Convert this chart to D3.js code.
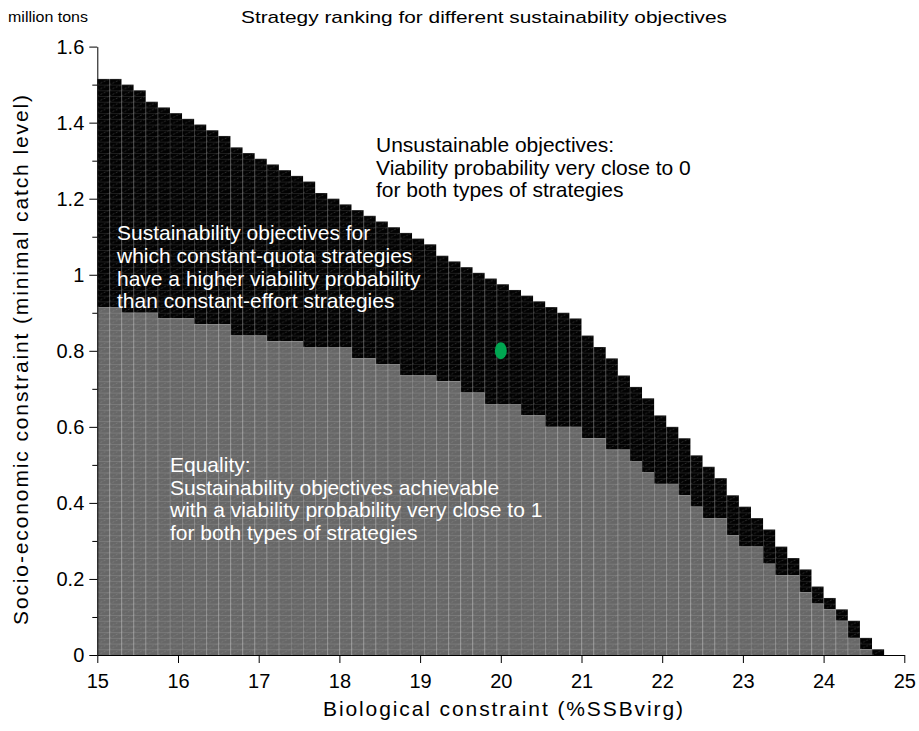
<!DOCTYPE html>
<html>
<head>
<meta charset="utf-8">
<script src="https://cdn.jsdelivr.net/npm/d3@7"></script>
<style>
  html, body { margin: 0; padding: 0; background: #fff; }
  svg { display: block; font-family: "Liberation Sans", Arial, Helvetica, sans-serif; }
</style>
</head>
<body>
<svg id="chart" width="919" height="731"></svg>
<script>
// Biological constraint (%SSBvirg): left edge of each grid column
const bioLevels = [
  15.00, 15.15, 15.30, 15.45, 15.60, 15.75, 15.90, 16.05, 16.20, 16.35,
  16.50, 16.65, 16.80, 16.95, 17.10, 17.25, 17.40, 17.55, 17.70, 17.85,
  18.00, 18.15, 18.30, 18.45, 18.60, 18.75, 18.90, 19.05, 19.20, 19.35,
  19.50, 19.65, 19.80, 19.95, 20.10, 20.25, 20.40, 20.55, 20.70, 20.85,
  21.00, 21.15, 21.30, 21.45, 21.60, 21.75, 21.90, 22.05, 22.20, 22.35,
  22.50, 22.65, 22.80, 22.95, 23.10, 23.25, 23.40, 23.55, 23.70, 23.85,
  24.00, 24.15, 24.30, 24.45, 24.60
];
const bioStep = 0.15;     // column width (%SSBvirg)
const catchStep = 0.015;  // row height (million tons)

// Highest catch level where constant-quota strategies are still viable (top of black zone)
const quotaLimit = [
  1.515, 1.515, 1.500, 1.485, 1.455, 1.440, 1.425, 1.410, 1.395, 1.380,
  1.365, 1.335, 1.320, 1.305, 1.290, 1.275, 1.260, 1.245, 1.215, 1.200,
  1.185, 1.170, 1.155, 1.140, 1.125, 1.110, 1.095, 1.080, 1.050, 1.035,
  1.020, 1.005, 0.990, 0.975, 0.960, 0.945, 0.930, 0.915, 0.900, 0.885,
  0.840, 0.810, 0.780, 0.735, 0.705, 0.675, 0.630, 0.600, 0.570, 0.525,
  0.495, 0.465, 0.420, 0.390, 0.360, 0.330, 0.285, 0.255, 0.225, 0.180,
  0.150, 0.120, 0.090, 0.045, 0.015
];

// Highest catch level reachable by both strategy types (top of grey zone)
const equalityLimit = [
  0.915, 0.915, 0.900, 0.900, 0.900, 0.885, 0.885, 0.885, 0.870, 0.870,
  0.870, 0.840, 0.840, 0.840, 0.825, 0.825, 0.825, 0.810, 0.810, 0.810,
  0.810, 0.780, 0.780, 0.765, 0.765, 0.735, 0.735, 0.735, 0.720, 0.720,
  0.690, 0.690, 0.660, 0.660, 0.660, 0.630, 0.630, 0.600, 0.600, 0.600,
  0.570, 0.570, 0.540, 0.540, 0.510, 0.480, 0.450, 0.450, 0.420, 0.390,
  0.360, 0.360, 0.315, 0.285, 0.285, 0.240, 0.210, 0.210, 0.165, 0.135,
  0.120, 0.090, 0.045, 0.015, 0.000
];

// Reference objective marked on the chart
const refPoint = { bio: 20, catchLevel: 0.8 };

const xTicks = [15, 16, 17, 18, 19, 20, 21, 22, 23, 24, 25];
const yTicks = [0, 0.2, 0.4, 0.6, 0.8, 1, 1.2, 1.4, 1.6];
const yTickLabels = ["0", "0.2", "0.4", "0.6", "0.8", "1", "1.2", "1.4", "1.6"];
const yMinorTicks = [0.1, 0.3, 0.5, 0.7, 0.9, 1.1, 1.3, 1.5];

const titleText = "Strategy ranking for different sustainability objectives";
const unitText = "million tons";
const xLabel = "Biological constraint (%SSBvirg)";
const yLabel = "Socio-economic constraint (minimal catch level)";

const quotaText = [
  "Sustainability objectives for",
  "which constant-quota strategies",
  "have a higher viability probability",
  "than constant-effort strategies"
];
const equalityText = [
  "Equality:",
  "Sustainability objectives achievable",
  "with a viability probability very close to 1",
  "for both types of strategies"
];
const unsustainableText = [
  "Unsustainable objectives:",
  "Viability probability very close to 0",
  "for both types of strategies"
];

const svg = d3.select("#chart");

const x = d3.scaleLinear().domain([15, 25]).range([97.3, 904.3]);
const y = d3.scaleLinear().domain([0, 1.6]).range([655, 46.6]);

// Mesh textures: one tile per grid cell, with its border and the triangulating diagonal
const cellW = x(15 + bioStep) - x(15);
const cellH = y(0) - y(catchStep);
const defs = svg.append("defs");
function meshPattern(id, fill, edge, diag) {
  const p = defs.append("pattern")
    .attr("id", id)
    .attr("patternUnits", "userSpaceOnUse")
    .attr("x", x(15))
    .attr("y", y(0))
    .attr("width", cellW)
    .attr("height", cellH);
  p.append("rect").attr("width", cellW).attr("height", cellH).attr("fill", fill);
  p.append("line").attr("x1", 0).attr("y1", cellH).attr("x2", cellW).attr("y2", 0)
    .attr("stroke", diag).attr("stroke-width", 0.6).attr("stroke-dasharray", "2,1.5");
  p.append("path").attr("d", `M0,0H${cellW}M0,0V${cellH}`)
    .attr("stroke", edge).attr("stroke-width", 0.9).attr("fill", "none");
}
meshPattern("meshQuota", "#020202", "#3c3c3c", "#4a4a4a");
meshPattern("meshEqual", "#676767", "#8e8e8e", "#858585");

const cols = bioLevels.map((b, i) => ({ bio: b, quota: quotaLimit[i], equal: equalityLimit[i] }));

// Black zone: constant-quota strategies better
svg.append("g").selectAll("rect")
  .data(cols)
  .join("rect")
  .attr("x", d => x(d.bio))
  .attr("width", d => x(d.bio + bioStep) - x(d.bio))
  .attr("y", d => y(d.quota))
  .attr("height", d => y(d.equal) - y(d.quota))
  .attr("fill", "url(#meshQuota)");

// Grey zone: both strategy types equally viable
svg.append("g").selectAll("rect")
  .data(cols.filter(d => d.equal > 0))
  .join("rect")
  .attr("x", d => x(d.bio))
  .attr("width", d => x(d.bio + bioStep) - x(d.bio))
  .attr("y", d => y(d.equal))
  .attr("height", d => y(0) - y(d.equal))
  .attr("fill", "url(#meshEqual)");

// Reference objective
svg.append("ellipse")
  .attr("cx", x(refPoint.bio))
  .attr("cy", y(refPoint.catchLevel))
  .attr("rx", 6)
  .attr("ry", 8.5)
  .attr("fill", "#00a651");

// Axes
const tickFont = "'Liberation Sans', Arial, sans-serif";
const xAxis = d3.axisBottom(x).tickValues(xTicks).tickFormat(d3.format("d")).tickSize(8).tickSizeOuter(0).tickPadding(11);
const gx = svg.append("g").attr("transform", `translate(0,${y(0)})`).call(xAxis);
gx.selectAll("text").attr("font-size", 20).attr("fill", "#000").attr("font-family", tickFont);

const yAxis = d3.axisLeft(y).tickValues(yTicks).tickFormat((d, i) => yTickLabels[i]).tickSize(8).tickSizeOuter(0).tickPadding(5);
const gy = svg.append("g").attr("transform", `translate(${x(15)},0)`).call(yAxis);
gy.selectAll("text").attr("font-size", 20).attr("fill", "#000").attr("font-family", tickFont);

const yMinor = d3.axisLeft(y).tickValues(yMinorTicks).tickFormat("").tickSize(5).tickSizeOuter(0);
const gyMinor = svg.append("g").attr("transform", `translate(${x(15)},0)`).call(yMinor);
gyMinor.select(".domain").remove();

svg.selectAll(".domain, .tick line").attr("stroke", "#000").attr("stroke-width", 1);

// Titles
svg.append("text")
  .attr("x", 484).attr("y", 23)
  .attr("text-anchor", "middle")
  .attr("font-size", 17)
  .attr("textLength", 486).attr("lengthAdjust", "spacingAndGlyphs")
  .text(titleText);

svg.append("text")
  .attr("x", 8).attr("y", 22)
  .attr("font-size", 15.5)
  .attr("textLength", 80).attr("lengthAdjust", "spacingAndGlyphs")
  .text(unitText);

svg.append("text")
  .attr("x", 503).attr("y", 716)
  .attr("text-anchor", "middle")
  .attr("font-size", 21)
  .attr("textLength", 360).attr("lengthAdjust", "spacing")
  .text(xLabel);

svg.append("text")
  .attr("transform", `translate(28,360) rotate(-90)`)
  .attr("text-anchor", "middle")
  .attr("font-size", 21)
  .attr("textLength", 530).attr("lengthAdjust", "spacing")
  .text(yLabel);

// Region annotations
function block(lines, x0, y0, lh, color) {
  const t = svg.append("text").attr("font-size", 21).attr("fill", color);
  lines.forEach((s, i) => t.append("tspan").attr("x", x0).attr("y", y0 + i * lh).text(s));
}
block(quotaText, 117, 240, 22.8, "#fff");
block(equalityText, 170, 472, 22.7, "#fff");
block(unsustainableText, 376, 152, 22.7, "#000");
</script>
</body>
</html>
